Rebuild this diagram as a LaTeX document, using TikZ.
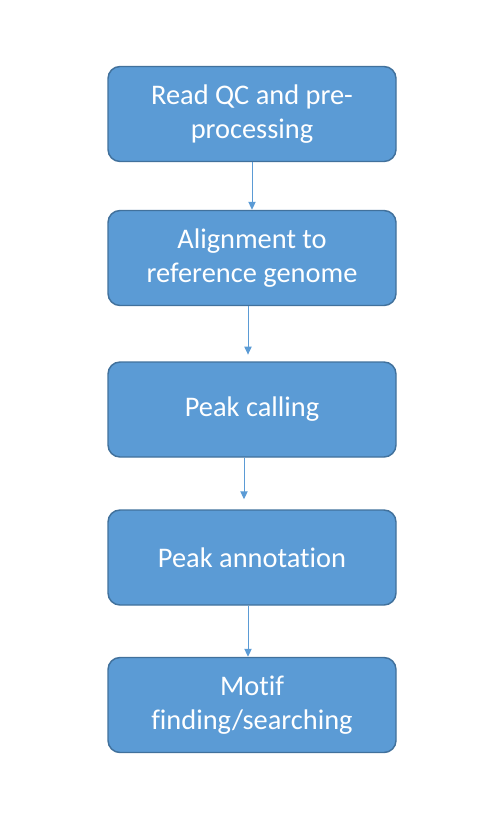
\documentclass[tikz,border=0pt]{standalone}
\usepackage{fontspec}
\setmainfont{Carlito}[Ligatures={NoCommon}]
\usetikzlibrary{arrows.meta}
\definecolor{boxfill}{HTML}{5B9BD5}
\definecolor{boxline}{HTML}{41719C}
\tikzset{every picture/.style={line width=0.75pt}}
\tikzset{stepbox/.style={draw=boxline,fill=boxfill,line width=1.1pt,rounded corners=9pt,
	minimum width=216pt,minimum height=71.25pt,align=center,text=white,
	font=\fontsize{21.3}{25}\selectfont}}
\begin{document}
\begin{tikzpicture}[x=0.75pt,y=-0.75pt,>={Triangle[width=5.5pt,length=6pt]}]
	\useasboundingbox (0,0) rectangle (502,828);
	%Box 1
	\node[stepbox] (qc) at (252,114) {Read QC and pre-\\processing};
	%Box 2
	\node[stepbox] (align) at (252,258) {Alignment to\\reference genome};
	%Box 3
	\node[stepbox] (peak) at (252,409.5) {Peak calling};
	%Box 4
	\node[stepbox] (annot) at (252,557.5) {Peak annotation};
	%Box 5
	\node[stepbox] (motif) at (252,705) {Motif\\finding/searching};
	%Arrows
	\draw [->,boxfill] (qc.south) -- (align.north);
	\draw [->,boxfill] ([xshift=-3pt]align.south) -- ([xshift=-3pt,yshift=5pt]peak.north);
	\draw [->,boxfill] ([xshift=-6pt]peak.south) -- ([xshift=-6pt,yshift=7.5pt]annot.north);
	\draw [->,boxfill] ([xshift=-3pt]annot.south) -- ([xshift=-3pt]motif.north);
\end{tikzpicture}
\end{document}
